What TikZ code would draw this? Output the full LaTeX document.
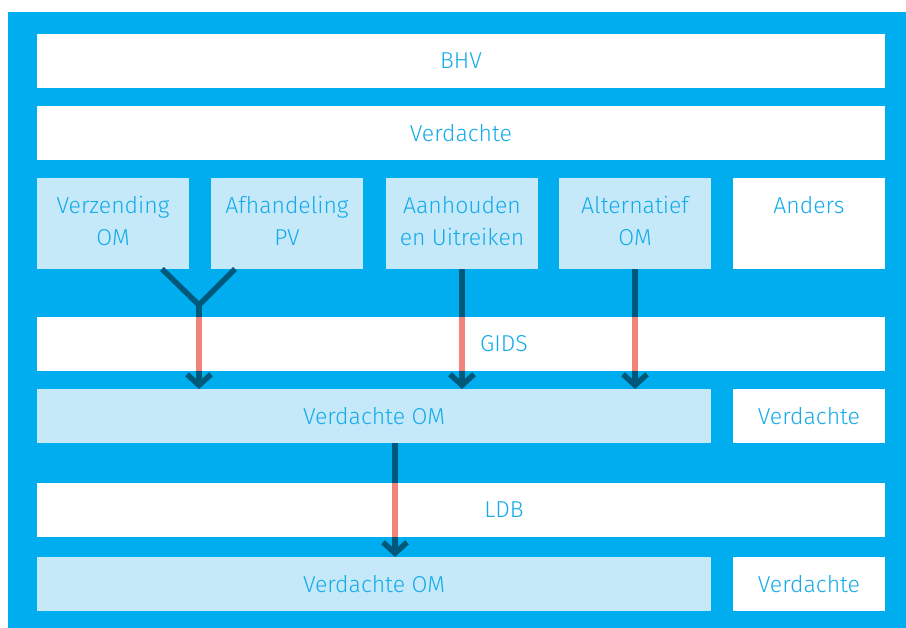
\documentclass[tikz,border=0pt]{standalone}
\usepackage{fontspec}
\setmainfont{Fira Sans Light}
\usetikzlibrary{arrows.meta}
\definecolor{frame}{HTML}{00AEEF}
\definecolor{lightbox}{HTML}{C6E9F9}
\definecolor{txt}{HTML}{14ABEA}
\definecolor{darkarr}{HTML}{00587A}
\definecolor{redline}{HTML}{F2837B}
\newcommand{\lowpad}{\rule[-6pt]{0pt}{6pt}}
\begin{document}
\begin{tikzpicture}[x=1pt,y=-1pt,
  basebox/.style={rectangle, inner sep=0pt, outer sep=0pt, anchor=north west, text=txt,
    font=\fontsize{23}{32}\selectfont, align=center},
  wbox/.style={basebox, fill=white},
  lbox/.style={basebox, fill=lightbox},
  wide/.style={minimum width=848pt, minimum height=54pt},
  half/.style={minimum width=674pt, minimum height=54pt},
  small/.style={minimum width=152pt, minimum height=54pt},
  tall/.style={minimum width=152pt, minimum height=91pt},
  lbl/.style={text=txt, font=\fontsize{23}{32}\selectfont, inner sep=0pt},
  darkline/.style={draw=darkarr, line width=5.5pt},
  darkarrow/.style={darkline, -{Straight Barb[length=11pt,width=24pt]}},
  redseg/.style={draw=redline, line width=5.8pt}
]
\useasboundingbox (0,0) rectangle (906,628);
\fill[frame] (8,12) rectangle (906,628);

\node[wbox, wide] (bhv) at (37,34) {BHV};
\node[wbox, wide] (verd) at (37,106) {Verdachte};

\node[lbox, tall] (verz) at (37,178) {Verzending\\OM\lowpad};
\node[lbox, tall] (afh) at (211,178) {Afhandeling\\PV\lowpad};
\node[lbox, tall] (aan) at (386,178) {Aanhouden\\en Uitreiken\lowpad};
\node[lbox, tall] (alt) at (559,178) {Alternatief\\OM\lowpad};
\node[wbox, tall] (anders) at (733,178) {Anders\\\mbox{}\lowpad};

\node[wbox, wide] (gids) at (37,317) {};
\node[lbl] (gidst) at (504,344) {GIDS};

\node[lbox, half] (vom1) at (37,389) {Verdachte OM};
\node[wbox, small] (v1) at (733,389) {Verdachte};

\node[wbox, wide] (ldb) at (37,483) {};
\node[lbl] (ldbt) at (504,510) {LDB};

\node[lbox, half] (vom2) at (37,557) {Verdachte OM};
\node[wbox, small] (v2) at (733,557) {Verdachte};

% Y-connector from Verzending and Afhandeling
\coordinate (ya) at (162,269);
\coordinate (yb) at (235,269);
\coordinate (yj) at (199,305);
\draw[darkline] (ya) -- (yj);
\draw[darkline] (yb) -- (yj);
\draw[darkarrow] (yj) -- (yj |- vom1.north);
\draw[redseg] (yj |- gids.north) -- (yj |- gids.south);

% Aanhouden
\draw[darkarrow] (aan.south) -- (aan.south |- vom1.north);
\draw[redseg] (aan.south |- gids.north) -- (aan.south |- gids.south);

% Alternatief
\draw[darkarrow] (alt.south) -- (alt.south |- vom1.north);
\draw[redseg] (alt.south |- gids.north) -- (alt.south |- gids.south);

% Verdachte OM to Verdachte OM through LDB
\coordinate (lx) at (395,443);
\draw[darkarrow] (lx |- vom1.south) -- (lx |- vom2.north);
\draw[redseg] (lx |- ldb.north) -- (lx |- ldb.south);
\end{tikzpicture}
\end{document}
